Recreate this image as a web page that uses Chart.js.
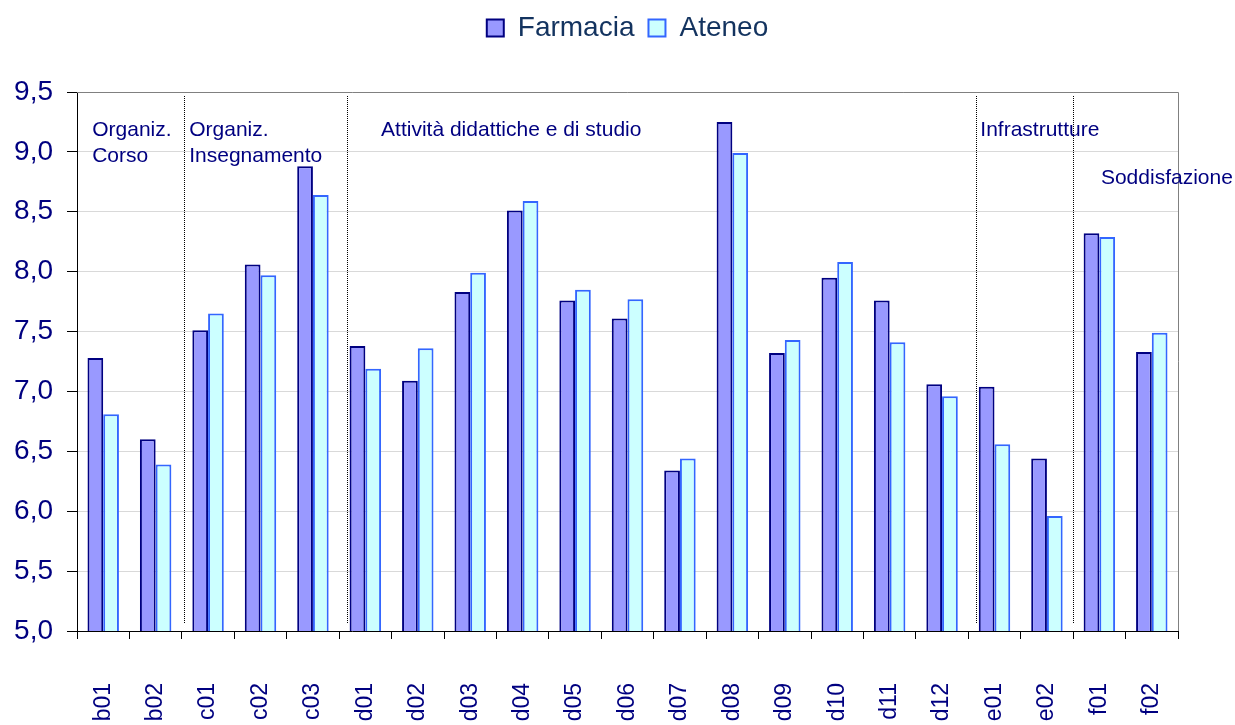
<!DOCTYPE html>
<html>
<head>
<meta charset="utf-8">
<script src="https://cdn.jsdelivr.net/npm/chart.js@4/dist/chart.umd.min.js"></script>
<style>
	html, body { margin: 0; padding: 0; background: #fff; }
	#wrap { width: 1235px; height: 725px; }
</style>
</head>
<body>
<div id="wrap"><canvas id="chart"></canvas></div>
<script>
// categories and values
const labels = ["b01", "b02", "c01", "c02", "c03", "d01", "d02", "d03", "d04", "d05", "d06", "d07", "d08", "d09", "d10", "d11", "d12", "e01", "e02", "f01", "f02"];
const farmacia = [7.28, 6.60, 7.51, 8.06, 8.88, 7.38, 7.09, 7.83, 8.51, 7.76, 7.61, 6.34, 9.25, 7.32, 7.95, 7.76, 7.06, 7.04, 6.44, 8.32, 7.33];
const ateneo = [6.81, 6.39, 7.65, 7.97, 8.64, 7.19, 7.36, 7.99, 8.59, 7.85, 7.77, 6.44, 8.99, 7.43, 8.08, 7.41, 6.96, 6.56, 5.96, 8.29, 7.49];
const yTicks = [5.0, 5.5, 6.0, 6.5, 7.0, 7.5, 8.0, 8.5, 9.0, 9.5];

// section separators (category units) and section titles
const separators = [1.55, 4.65, 16.65, 18.5];
const sectionTitles = [
	{ text: ["Organiz.", "Corso"], x: -0.21, y: 9.13 },
	{ text: ["Organiz.", "Insegnamento"], x: 1.64, y: 9.13 },
	{ text: ["Attività didattiche e di studio"], x: 5.3, y: 9.13 },
	{ text: ["Infrastrutture"], x: 16.73, y: 9.13 },
	{ text: ["Soddisfazione"], x: 19.03, y: 8.73 }
];

const navy = "#000080";
const font = "'Liberation Sans', Arial, sans-serif";

// dotted lines, frame and section labels
const sectionsPlugin = {
	id: "sections",
	afterDatasetsDraw(chart) {
		const ctx = chart.ctx;
		const xs = chart.scales.x;
		const ys = chart.scales.y;
		const area = chart.chartArea;
		ctx.save();
		// frame top/right
		ctx.strokeStyle = "#808080";
		ctx.lineWidth = 1;
		ctx.beginPath();
		ctx.moveTo(area.left, area.top + 0.5);
		ctx.lineTo(area.right + 0.5, area.top + 0.5);
		ctx.lineTo(area.right + 0.5, area.bottom);
		ctx.stroke();
		// dotted separators
		ctx.strokeStyle = "#000";
		ctx.setLineDash([1, 1]);
		for (let s of separators) {
			const px = Math.round(xs.getPixelForValue(s)) + 0.5;
			ctx.beginPath();
			ctx.moveTo(px, Math.round(ys.getPixelForValue(9.47)));
			ctx.lineTo(px, Math.round(ys.getPixelForValue(5.07)));
			ctx.stroke();
		}
		ctx.setLineDash([]);
		// section titles
		ctx.fillStyle = navy;
		ctx.font = "21px " + font;
		ctx.textBaseline = "alphabetic";
		ctx.textAlign = "left";
		for (let t of sectionTitles) {
			const px = xs.getPixelForValue(t.x);
			const py = ys.getPixelForValue(t.y);
			t.text.forEach((line, i) => ctx.fillText(line, px, py + i * 25.5));
		}
		ctx.restore();
	}
};

// extra room below the legend, and legend centred over the plot area
const legendSpace = {
	id: "legendSpace",
	beforeInit(chart) {
		const fit = chart.legend.fit;
		chart.legend.fit = function() {
			fit.bind(chart.legend)();
			this.height += 40;
		};
	},
	afterLayout(chart) {
		const lg = chart.legend;
		const area = chart.chartArea;
		const shift = (area.left + area.right) / 2 - (lg.left + lg.right) / 2;
		lg.left += shift;
		lg.right += shift;
	}
};

new Chart(document.getElementById("chart"), {
	type: "bar",
	data: {
		labels: labels,
		datasets: [
			{
				label: "Farmacia",
				data: farmacia,
				backgroundColor: "#9999FF",
				borderColor: navy,
				borderWidth: 2
			},
			{
				label: "Ateneo",
				data: ateneo,
				backgroundColor: "#CCFFFF",
				borderColor: "#3366FF",
				borderWidth: 2
			}
		]
	},
	options: {
		responsive: true,
		maintainAspectRatio: false,
		animation: false,
		categoryPercentage: 0.6,
		barPercentage: 1.0,
		layout: {
			padding: { left: 12, right: 57, top: 0, bottom: 0 }
		},
		plugins: {
			legend: {
				position: "top",
				labels: {
					color: "#13335f",
					font: { family: font, size: 28 },
					boxWidth: 17,
					boxHeight: 17,
					padding: 14
				}
			},
			tooltip: { enabled: false }
		},
		scales: {
			x: {
				afterFit(axis) {
					axis.height = 94;
				},
				grid: {
					drawOnChartArea: false,
					drawTicks: true,
					tickLength: 8,
					tickColor: "#000"
				},
				border: { color: "#000", width: 1 },
				ticks: {
					color: navy,
					font: { family: font, size: 23 },
					minRotation: 90,
					maxRotation: 90,
					padding: 44
				}
			},
			y: {
				min: 5,
				max: 9.5,
				afterBuildTicks(axis) {
					axis.ticks = yTicks.map(v => ({ value: v }));
				},
				afterFit(axis) {
					axis.width = 65;
				},
				grid: {
					color: "#d9d9d9",
					tickColor: "#000",
					tickLength: 10
				},
				border: { color: "#000", width: 1 },
				ticks: {
					color: navy,
					font: { family: font, size: 28 },
					padding: 14,
					callback: v => v.toFixed(1).replace(".", ",")
				}
			}
		}
	},
	plugins: [sectionsPlugin, legendSpace]
});
</script>
</body>
</html>
